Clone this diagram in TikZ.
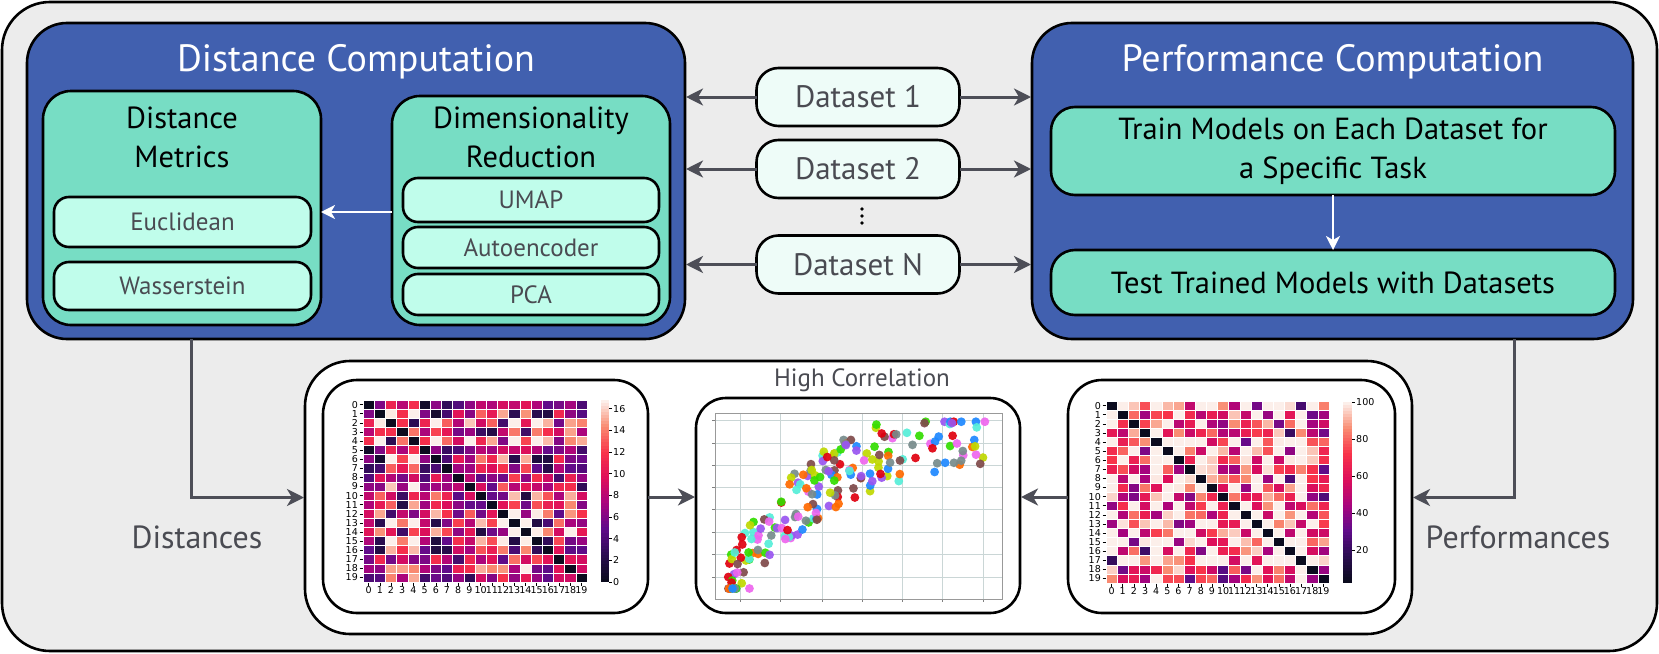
\documentclass[tikz,border=0pt]{standalone}
\usepackage{fontspec}
\setmainfont{PT Sans}
\newfontfamily\plotfont{DejaVu Sans}
\usetikzlibrary{arrows.meta,calc}

\definecolor{outerbg}{HTML}{ECECEC}
\definecolor{bluebg}{HTML}{4160AF}
\definecolor{tealbg}{HTML}{77DDC4}
\definecolor{mintbg}{HTML}{C0FDEB}
\definecolor{dsbg}{HTML}{EEFCF8}
\definecolor{arrowgray}{HTML}{4D4E57}
\definecolor{textgray}{HTML}{4A4B52}
\definecolor{gridc}{HTML}{CAD6D6}
% colormap stops
\definecolor{cm0}{HTML}{0B0B1E}
\definecolor{cm1}{HTML}{2A0C50}
\definecolor{cm2}{HTML}{600B8A}
\definecolor{cm3}{HTML}{A8047E}
\definecolor{cm4}{HTML}{DE0F5A}
\definecolor{cm5}{HTML}{F8334A}
\definecolor{cm6}{HTML}{F98C72}
\definecolor{cm7}{HTML}{FCEFEA}
% scatter colours
\definecolor{sc0}{HTML}{1E88FF}
\definecolor{sc1}{HTML}{FF6A00}
\definecolor{sc2}{HTML}{33DD00}
\definecolor{sc3}{HTML}{E00010}
\definecolor{sc4}{HTML}{9955F0}
\definecolor{sc5}{HTML}{7F4A4A}
\definecolor{sc6}{HTML}{EE66EE}
\definecolor{sc7}{HTML}{778B8B}
\definecolor{sc8}{HTML}{C0D800}
\definecolor{sc9}{HTML}{55EED8}

\newcommand\setcmap[1]{%
  \pgfmathsetmacro\cmv{max(0,min(0.9999,#1))*7}%
  \pgfmathtruncatemacro\cmi{floor(\cmv)}%
  \pgfmathtruncatemacro\cmj{\cmi+1}%
  \pgfmathsetmacro\cmt{(\cmv-\cmi)*100}%
  \colorlet{cc}{cm\cmj!\cmt!cm\cmi}%
}

\tikzset{
  panel/.style={draw=black, line width=2.6pt, inner sep=0pt, outer sep=0pt},
  outerpanel/.style={panel, fill=outerbg, rounded corners=48pt},
  bluepanel/.style={panel, fill=bluebg, rounded corners=40pt},
  tealpanel/.style={panel, fill=tealbg, rounded corners=28pt},
  mintpanel/.style={panel, fill=mintbg, rounded corners=15pt},
  dspanel/.style={panel, fill=dsbg, rounded corners=22pt},
  whitepanel/.style={panel, fill=white, rounded corners=#1},
  conn/.style={draw=arrowgray, line width=3pt, -{Stealth[length=17pt,width=17pt,inset=5pt]}},
  wconn/.style={draw=white, line width=2.5pt, -{Stealth[length=14pt,width=14pt,inset=4pt]}},
  titletext/.style={font=\fontsize{38}{42}\selectfont, text=white},
  headtext/.style={font=\fontsize{30.5}{39}\selectfont, text=black, align=center},
  smalltext/.style={font=\fontsize{25}{27}\selectfont, text=textgray},
  dstext/.style={font=\fontsize{31}{33}\selectfont, text=textgray},
  labeltext/.style={font=\fontsize{32}{34}\selectfont, text=textgray},
  ticktext/.style={font=\plotfont\fontsize{9.5}{10}\selectfont, text=black, inner sep=1pt},
}

\begin{document}
\begin{tikzpicture}[x=1pt,y=-1pt]
\useasboundingbox (0,0) rectangle (1659,653);

% outer panel
\node[outerpanel, minimum width=1655pt, minimum height=649pt] (outer) at (829.5,326.5) {};

% top panels
\node[bluepanel, minimum width=658pt, minimum height=316pt] (distbox) at (356,181) {};
\node[bluepanel, minimum width=601pt, minimum height=316pt] (perfbox) at (1332.5,181) {};
\node[titletext] (disttitle) at (356,62) {Distance Computation};
\node[titletext] (perftitle) at (1332.5,62) {Performance Computation};

% distance metrics
\node[tealpanel, minimum width=278pt, minimum height=234pt] (metricsbox) at (182,208) {};
\node[headtext] (metricstitle) at (182,137) {Distance\\Metrics};
\node[mintpanel, minimum width=257pt, minimum height=50pt] (euclid) at (182.5,222) {};
\node[smalltext] (euclidtext) at (182.5,222) {Euclidean};
\node[mintpanel, minimum width=257pt, minimum height=48pt] (wass) at (182.5,286) {};
\node[smalltext] (wasstext) at (182.5,286) {Wasserstein};

% dimensionality reduction
\node[tealpanel, minimum width=278pt, minimum height=229pt] (dimbox) at (531,210.5) {};
\node[headtext] (dimtitle) at (531,137) {Dimensionality\\Reduction};
\node[mintpanel, minimum width=256pt, minimum height=44pt] (umap) at (531,200) {};
\node[smalltext] (umaptext) at (531,200) {UMAP};
\node[mintpanel, minimum width=256pt, minimum height=41pt] (autoenc) at (531,247.5) {};
\node[smalltext] (autotext) at (531,247.5) {Autoencoder};
\node[mintpanel, minimum width=256pt, minimum height=41pt] (pca) at (531,294.5) {};
\node[smalltext] (pcatext) at (531,294.5) {PCA};
\coordinate (warr) at (0,212);
\draw[wconn] (dimbox.west |- warr) -- (metricsbox.east |- warr);

% datasets
\node[dspanel, minimum width=203pt, minimum height=58pt] (ds1) at (858,97) {};
\node[dstext] (ds1text) at (858,97) {Dataset 1};
\node[dspanel, minimum width=203pt, minimum height=58pt] (ds2) at (858,169) {};
\node[dstext] (ds2text) at (858,169) {Dataset 2};
\node[dspanel, minimum width=203pt, minimum height=58pt] (dsN) at (858,264.5) {};
\node[dstext] (dsNtext) at (858,264.5) {Dataset N};
\fill[black] (862,209) circle (1.9) (862,216) circle (1.9) (862,223) circle (1.9);
\foreach \d in {ds1,ds2,dsN}{
  \draw[conn, shorten >=1pt] (\d.west) -- (\d.west -| distbox.east);
  \draw[conn, shorten >=1pt] (\d.east) -- (\d.east -| perfbox.west);
}

% performance
\node[tealpanel, rounded corners=24pt, minimum width=564pt, minimum height=88pt] (train) at (1333,151) {};
\node[headtext] (traintext) at (1333,151) {Train Models on Each Dataset for\\a Specific Task};
\node[tealpanel, rounded corners=24pt, minimum width=564pt, minimum height=65pt] (test) at (1333,282.5) {};
\node[headtext] (testtext) at (1333,282.5) {Test Trained Models with Datasets};
\draw[wconn] (train.south) -- (test.north);

% results panel
\node[whitepanel=45pt, minimum width=1107pt, minimum height=273pt] (results) at (858.5,497.5) {};
\node[whitepanel=34pt, minimum width=325pt, minimum height=233pt] (hm1box) at (485.5,496.5) {};
\node[whitepanel=34pt, minimum width=327pt, minimum height=233pt] (hm2box) at (1231.5,496.5) {};
\node[whitepanel=30pt, minimum width=324pt, minimum height=215pt] (scbox) at (858,505.5) {};
\node[font=\fontsize{25}{28}\selectfont, text=textgray] (hctext) at (862,380) {High Correlation};

% connectors to results
\coordinate (dleg) at (191,0);
\coordinate (pleg) at (1514,0);
\draw[conn, shorten >=1pt] (distbox.south -| dleg) |- (results.west);
\draw[conn, shorten >=1pt] (perfbox.south -| pleg) |- (results.east);
\coordinate (harr) at (0,497);
\draw[conn, shorten >=1pt] (hm1box.east |- harr) -- (scbox.west |- harr);
\draw[conn, shorten >=1pt] (hm2box.west |- harr) -- (scbox.east |- harr);
\node[labeltext] (distlabel) at (197,537) {Distances};
\node[labeltext] (perflabel) at (1518,537) {Performances};

% ---------- heatmap 1 (distances) ----------
\foreach \i in {0,...,19}{
  \pgfmathsetmacro\ax{frac(abs(sin(\i*127.1+11)*437.5453))}
  \pgfmathsetmacro\ay{frac(abs(sin(\i*311.7+37)*758.5453))}
  \expandafter\xdef\csname pax\i\endcsname{\ax}
  \expandafter\xdef\csname pay\i\endcsname{\ay}
}
\foreach \i/\bx/\by in {0/0.12/0.85,1/0.55/0.20,2/0.80/0.62,3/0.33/0.41,4/0.95/0.10,
  5/0.05/0.30,6/0.68/0.93,7/0.42/0.72,8/0.22/0.08,9/0.88/0.38,10/0.60/0.55,
  11/0.15/0.58,12/0.75/0.15,13/0.38/0.95,14/0.50/0.05,15/0.97/0.80,16/0.28/0.25,
  17/0.02/0.98,18/0.64/0.35,19/0.45/0.48}{
  \expandafter\xdef\csname pbx\i\endcsname{\bx}
  \expandafter\xdef\csname pby\i\endcsname{\by}
}
\foreach \i in {0,...,19}{
  \foreach \j in {0,...,19}{
    \edef\xa{\csname pax\i\endcsname}\edef\ya{\csname pay\i\endcsname}
    \edef\xb{\csname pax\j\endcsname}\edef\yb{\csname pay\j\endcsname}
    \pgfmathsetmacro\dv{veclen(\xa-\xb,\ya-\yb)/0.9}
    \setcmap{\dv}
    \filldraw[fill=cc, draw=white, line width=0.5pt] (363+\j*11.2,400+\i*9.1) rectangle ++(11.2,9.1);
  }
}
\foreach \i in {0,...,19}{
  \draw[black, line width=0.5pt] (359.5,{400+(\i+0.5)*9.1}) -- (362.5,{400+(\i+0.5)*9.1});
  \node[ticktext, anchor=east] (hArow\i) at (359,{400+(\i+0.5)*9.1}) {\i};
  \draw[black, line width=0.5pt] ({363+(\i+0.5)*11.2},582.5) -- ({363+(\i+0.5)*11.2},585.5);
  \node[ticktext, anchor=north, inner xsep=0pt] (hAcol\i) at ({363+(\i+0.5)*11.2},585.5) {\i};
}
\foreach \k in {0,...,59}{
  \setcmap{\k/59}
  \fill[cc] (601,{582-(\k+1)*182/60-0.3}) rectangle (609,{582-\k*182/60});
}
\foreach \v in {0,2,...,16}{
  \draw[black, line width=0.5pt] (609,{582-\v/16.8*182}) -- (612,{582-\v/16.8*182});
  \node[ticktext, anchor=west] (hAcb\v) at (612,{582-\v/16.8*182}) {\v};
}

% ---------- heatmap 2 (performances) ----------
\foreach \i in {0,...,19}{
  \foreach \j in {0,...,19}{
    \edef\xa{\csname pbx\i\endcsname}\edef\ya{\csname pby\i\endcsname}
    \edef\xb{\csname pbx\j\endcsname}\edef\yb{\csname pby\j\endcsname}
    \pgfmathsetmacro\nzz{frac(abs(sin(\i*53.7+\j*91.3+5)*341.71))}
    \pgfmathsetmacro\dv{veclen(\xa-\xb,\ya-\yb)*1.3+0.3*\nzz-0.05}
    \ifnum\i=\j \def\dv{0}\fi
    \setcmap{\dv}
    \filldraw[fill=cc, draw=white, line width=0.5pt] (1106+\j*11.15,401+\i*9.1) rectangle ++(11.15,9.1);
  }
}
\foreach \i in {0,...,19}{
  \draw[black, line width=0.5pt] (1102.5,{401+(\i+0.5)*9.1}) -- (1105.5,{401+(\i+0.5)*9.1});
  \node[ticktext, anchor=east] (hBrow\i) at (1102,{401+(\i+0.5)*9.1}) {\i};
  \draw[black, line width=0.5pt] ({1106+(\i+0.5)*11.15},583.5) -- ({1106+(\i+0.5)*11.15},586.5);
  \node[ticktext, anchor=north, inner xsep=0pt] (hBcol\i) at ({1106+(\i+0.5)*11.15},586.5) {\i};
}
\foreach \k in {0,...,59}{
  \setcmap{\k/59}
  \fill[cc] (1343,{583-(\k+1)*181/60-0.3}) rectangle (1352,{583-\k*181/60});
}
\foreach \v in {20,40,...,100}{
  \draw[black, line width=0.5pt] (1352,{583-(\v-2)/98*181}) -- (1355,{583-(\v-2)/98*181});
  \node[ticktext, anchor=west] (hBcb\v) at (1355,{583-(\v-2)/98*181}) {\v};
}

% ---------- scatter plot ----------
\fill[white] (715,413) rectangle (1002,599);
\foreach \gx in {740,780,822,862,902,942,983}{
  \draw[gridc, line width=0.8pt] (\gx,413) -- (\gx,599);
  \draw[gray, line width=0.6pt] (\gx,599) -- (\gx,602);
}
\foreach \gy in {420,443,465,487,509,532,554,577}{
  \draw[gridc, line width=0.8pt] (715,\gy) -- (1002,\gy);
  \draw[gray, line width=0.6pt] (712,\gy) -- (715,\gy);
}
\draw[gray!80, line width=0.7pt] (715,413) rectangle (1002,599);
\foreach \k in {1,...,200}{
  \pgfmathsetmacro\ux{frac(abs(sin(\k*12.9898+7)*437.5453))}
  \pgfmathsetmacro\sx{\ux^1.3}
  \pgfmathsetmacro\nz{2*frac(abs(sin(\k*78.233+19)*758.5453))-1}
  \pgfmathsetmacro\sy{max(0.02,min(0.99,1.0*(1-exp(-2.7*\sx))+0.19*\nz))}
  \pgfmathtruncatemacro\sc{mod(\k,10)}
  \fill[sc\sc, opacity=0.92] ({728+258*\sx},{592-172*\sy}) circle (4.4);
}
\end{tikzpicture}
\end{document}
